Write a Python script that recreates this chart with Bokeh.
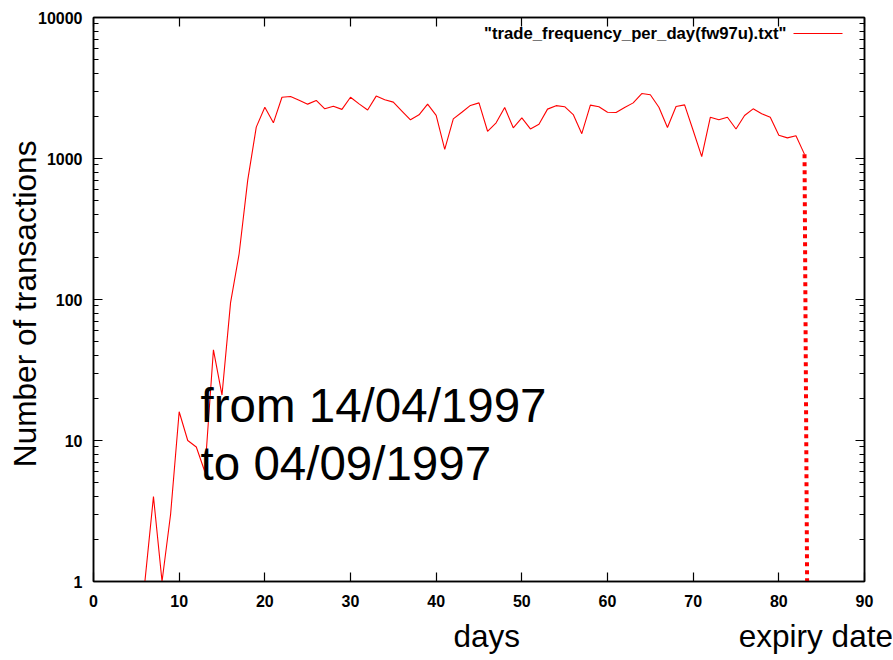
import numpy as np
from bokeh.plotting import figure
from bokeh.models import (Range1d, LinearAxis, LogAxis, FixedTicker, Label,
                          Arrow, ColumnDataSource, PrintfTickFormatter, Title)
from bokeh.embed import file_html
from bokeh.resources import INLINE

# ---- data ----
days = list(range(0, 84))
transactions = [1, 1, 1, 1, 1, 1, 1, 4, 1, 3,
                16, 10, 9, 6, 44, 21, 95, 211, 700, 1670,
                2310, 1790, 2720, 2750, 2590, 2430, 2580, 2250, 2350, 2230,
                2720, 2440, 2210, 2770, 2610, 2510, 2170, 1880, 2040, 2430,
                2020, 1160, 1910, 2130, 2380, 2480, 1560, 1790, 2300, 1650,
                1940, 1620, 1750, 2240, 2370, 2330, 2050, 1500, 2390, 2330,
                2130, 2120, 2300, 2480, 2890, 2830, 2310, 1660, 2340, 2400,
                1580, 1030, 1960, 1880, 1960, 1620, 2020, 2250, 2080, 1960,
                1460, 1400, 1450, 1070]
expiry_days = [83, 83.3]
expiry_values = [1070, 1]
x_ticks = [0, 10, 20, 30, 40, 50, 60, 70, 80, 90]
y_ticks = [1, 10, 100, 1000, 10000]
y_minor = [m * 10 ** k for k in range(4) for m in range(2, 10)]
legend_text = '"trade_frequency_per_day(fw97u).txt"'
note_line1 = "from 14/04/1997"
note_line2 = "to 04/09/1997"
x_title = "days"
expiry_title = "expiry date"
y_title = "Number of transactions"

FONT = "Liberation Sans"
NBSP = "\u00a0"

p = figure(frame_width=771, frame_height=564,
           min_border_left=93, min_border_right=28,
           min_border_top=17, min_border_bottom=40,
           x_range=Range1d(0, 90), y_range=Range1d(1, 10000),
           y_axis_type="log", output_backend="svg", toolbar_location=None,
           background_fill_color="white", border_fill_color="white")
p.grid.visible = False
p.outline_line_color = "black"
p.outline_line_width = 1.5

def style_axis(ax, show_labels=True, standoff=12):
    ax.axis_line_color = "black"
    ax.axis_line_width = 1.5
    ax.major_tick_in = 9
    ax.major_tick_out = 0
    ax.minor_tick_in = 5
    ax.minor_tick_out = 0
    ax.major_tick_line_color = "black"
    ax.minor_tick_line_color = "black"
    ax.major_tick_line_width = 1.2
    ax.minor_tick_line_width = 1.2
    ax.major_label_text_font = FONT
    ax.major_label_text_font_style = "bold"
    ax.major_label_text_font_size = "16px"
    ax.major_label_text_color = "black"
    ax.major_label_standoff = standoff
    ax.formatter = PrintfTickFormatter(format="%d")
    if not show_labels:
        ax.major_label_text_font_size = "1px"
        ax.major_label_text_color = None
        ax.major_label_standoff = 0

p.xaxis.ticker = FixedTicker(ticks=x_ticks, minor_ticks=[])
p.yaxis.ticker = FixedTicker(ticks=y_ticks, minor_ticks=y_minor)
style_axis(p.xaxis[0], standoff=13)
style_axis(p.yaxis[0], standoff=11)

yax = p.yaxis[0]
yax.axis_label = y_title + NBSP
yax.axis_label_text_font = FONT
yax.axis_label_text_font_size = "31.6px"
yax.axis_label_text_font_style = "normal"
yax.axis_label_text_color = "black"
yax.axis_label_standoff = -8

top = LinearAxis(ticker=FixedTicker(ticks=x_ticks, minor_ticks=[]))
style_axis(top, False)
p.add_layout(top, "above")
right = LogAxis(ticker=FixedTicker(ticks=y_ticks, minor_ticks=y_minor))
style_axis(right, False)
p.add_layout(right, "right")

src = ColumnDataSource(dict(day=days, n=transactions))
p.line("day", "n", source=src, line_color="red", line_width=1.1)

p.line(expiry_days, expiry_values, line_color="red", line_width=4,
       line_dash="4 4")

# key (gnuplot style): title text followed by a red sample line
p.add_layout(Label(x=693, y=548, x_units="screen", y_units="screen",
                   text=legend_text, text_font=FONT, text_font_style="bold",
                   text_font_size="16.7px", text_align="right",
                   text_baseline="middle", text_color="black"))
p.add_layout(Arrow(x_start=700, y_start=548, x_end=749, y_end=548,
                   start_units="screen", end_units="screen",
                   start=None, end=None, line_color="red", line_width=1.1))

# annotation text
p.add_layout(Label(x=12.5, y=17.6, text=note_line1, text_font=FONT,
                   text_font_size="47.5px", text_baseline="alphabetic",
                   text_color="black"))
p.add_layout(Label(x=12.5, y=6.9, text=note_line2, text_font=FONT,
                   text_font_size="47.5px", text_baseline="alphabetic",
                   text_color="black"))

# bottom titles: "days" ... "expiry date" on one baseline
bottom_title = Title(text=x_title + NBSP * 25 + expiry_title,
                     align="left", offset=360, standoff=13,
                     text_font=FONT, text_font_size="31.5px",
                     text_font_style="normal", text_color="black")
p.add_layout(bottom_title, "below")

open("out.html", "w").write(file_html(p, INLINE))
